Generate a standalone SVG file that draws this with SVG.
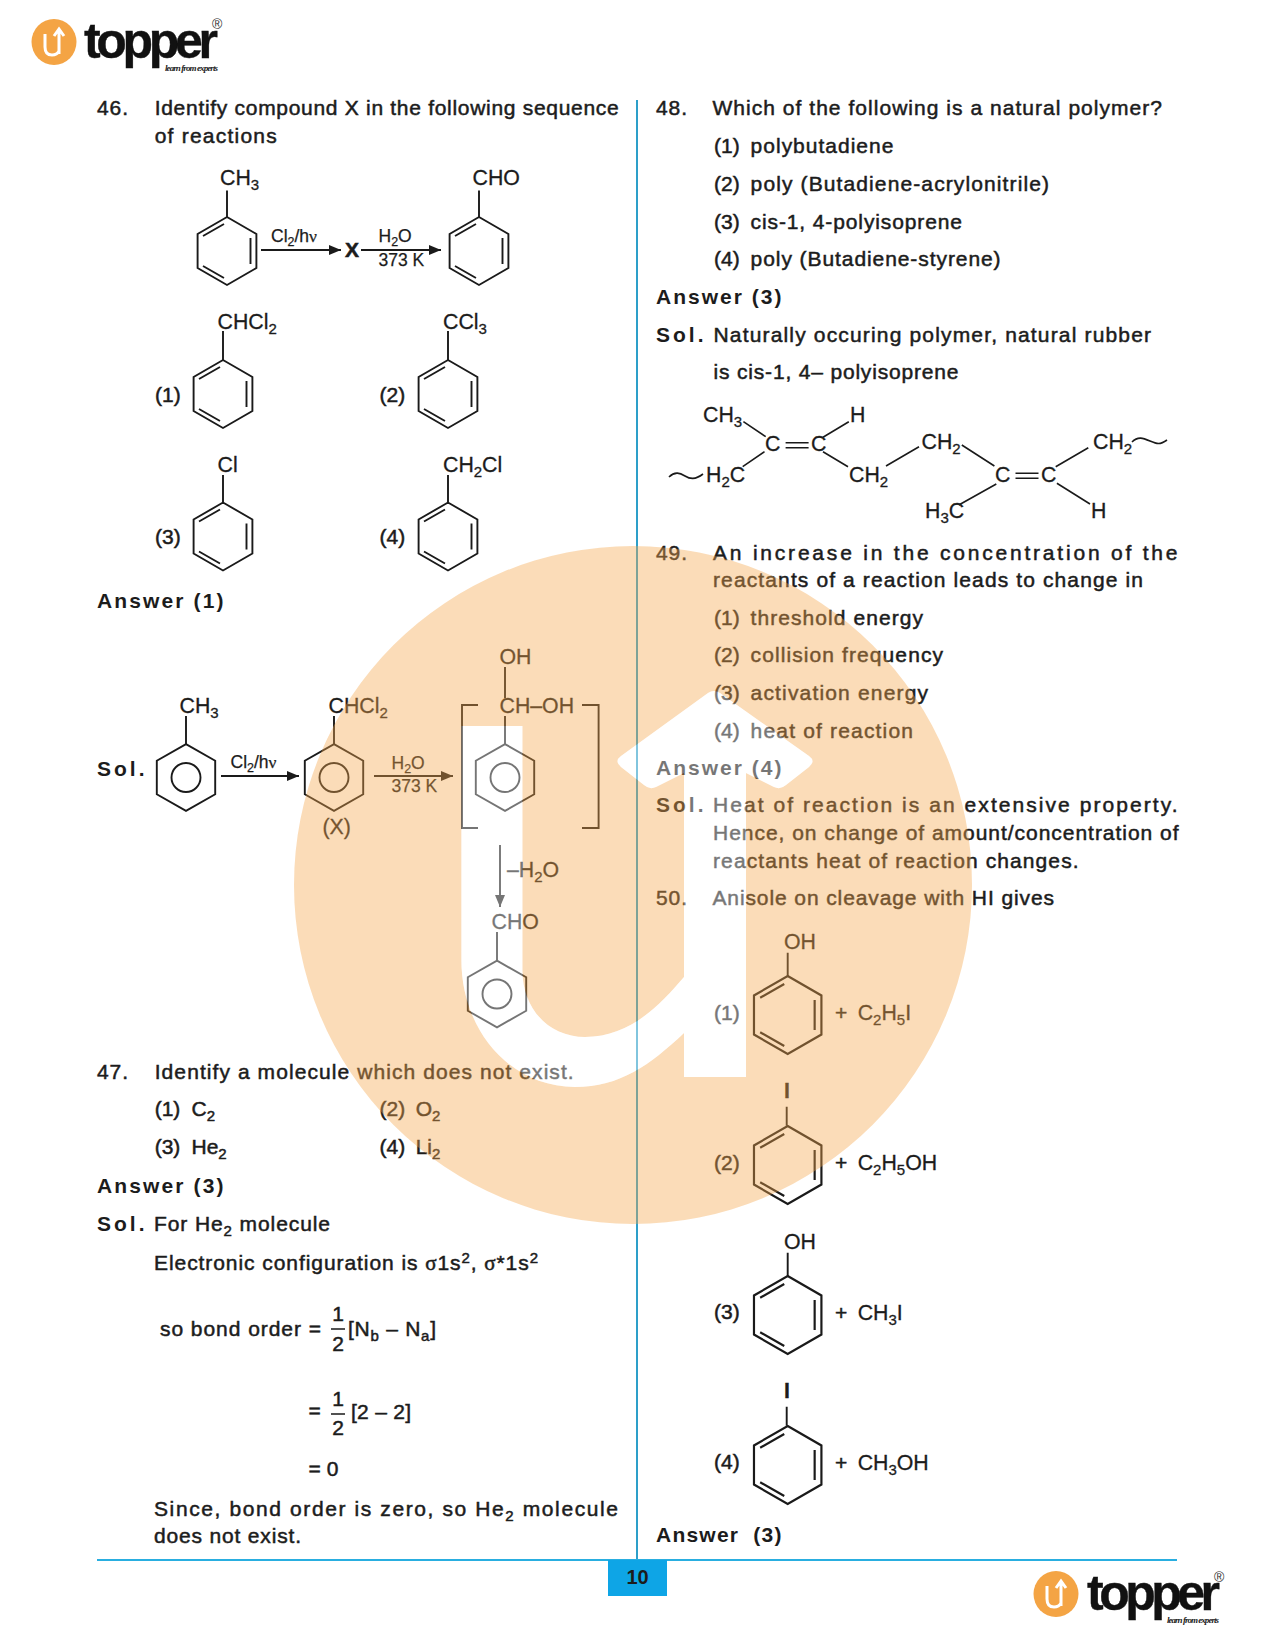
<svg xmlns="http://www.w3.org/2000/svg" xmlns:xlink="http://www.w3.org/1999/xlink" width="1275" height="1650" viewBox="0 0 1275 1650">
<style>
text{font-family:"Liberation Sans",Arial,sans-serif;fill:#1c1c1c}
.t{font-size:21px;stroke:#1c1c1c;stroke-width:.5}
.n{font-size:21px;stroke:#1c1c1c;stroke-width:.5;letter-spacing:.9px}
.b{font-size:21px;font-weight:bold;letter-spacing:1.5px}
.so{font-size:21px;font-weight:bold;letter-spacing:3px}
.c{font-size:21.3px;stroke:#1c1c1c;stroke-width:.3}
.s{font-size:17.5px;stroke:#1c1c1c;stroke-width:.25}
.g{font-family:"Liberation Serif",serif}
.bond{fill:none;stroke:#1a1a1a;stroke-width:1.9}
.thin{fill:none;stroke:#1a1a1a;stroke-width:1.6}
.logo{font-size:50px;font-weight:bold;fill:#111;stroke:#111;stroke-width:.4}
.tag{font-family:"Liberation Serif",serif;font-style:italic;font-weight:bold;font-size:9px;fill:#222}
.reg{font-size:14px;fill:#333}
</style>
<defs>
<marker id="ah" markerUnits="userSpaceOnUse" markerWidth="13" markerHeight="10" refX="12" refY="5" orient="auto"><path d="M0 0L12 5L0 10z" fill="#1a1a1a"/></marker>
<g id="kek" class="bond"><path d="M0-34L29.4-17V17L0 34L-29.4 17V-17Z"/><path d="M-24-15L-3-27M23.5-13V13M-24 15L-3 27"/></g>
<g id="ring" class="bond"><path d="M0-33.4L29.2-16.7V16.7L0 33.4L-29.2 16.7V-16.7Z"/><circle r="14.5"/></g>
<g id="badge"><ellipse rx="22.5" ry="23" fill="#f4a444"/><path d="M-9-8V5Q-9 13-2 13Q3 13 5 9M5 12V-12M0-6L5-13L10-6" fill="none" stroke="#fff" stroke-width="3"/></g>
</defs>
<rect width="1275" height="1650" fill="#fff"/>

<g id="logo-top"><use xlink:href="#badge" href="#badge" x="54" y="42"/><text class="logo" x="84" y="58" textLength="134" lengthAdjust="spacing">topper</text><text class="reg" x="212" y="29">®</text><text class="tag" x="165" y="71" textLength="53">learn from experts</text></g>
<g id="logo-bottom"><use xlink:href="#badge" href="#badge" x="1056" y="1594"/><text class="logo" x="1087" y="1610" textLength="133" lengthAdjust="spacing">topper</text><text class="reg" x="1214" y="1582">®</text><text class="tag" x="1167" y="1623" textLength="52">learn from experts</text></g>

<g id="frame">
<rect x="636" y="100" width="2" height="1460" fill="#2d9fc9"/>
<rect x="97" y="1559" width="1080" height="2" fill="#29aee0"/>
<rect x="608" y="1560" width="59" height="36" fill="#0ea5e6"/>
<text x="637.5" y="1584" text-anchor="middle" font-size="20" font-weight="bold">10</text>
</g>

<g id="connectors">
<path class="bond" d="M227 190.5V218M479 190.5V218M223 331V360M448 331V360M223 475V503M448 475V503"/>
<line class="bond" x1="261" y1="250" x2="341" y2="250" marker-end="url(#ah)"/>
<line class="bond" x1="361" y1="250" x2="441" y2="250" marker-end="url(#ah)"/>
<path class="bond" d="M186 716V744M334 716V744M505 667V698M505 716V744M497 932V961"/>
<line class="bond" x1="221" y1="776" x2="299" y2="776" marker-end="url(#ah)"/>
<line class="bond" x1="374" y1="776" x2="453" y2="776" marker-end="url(#ah)"/>
<line class="bond" x1="500" y1="845" x2="500" y2="907" marker-end="url(#ah)"/>
<path class="bond" d="M478 705H462V828H478M582 705H598.6V828H582"/>
<path class="thin" d="M743.4 421.7L765.7 436.7M764.5 451.7L742.7 466.7M823 437.3L848.8 421.7M823 451.7L848 466.7M886 466L919 446.7M961.8 445L994.4 466M996.3 484L958.8 505M1056.9 483.3L1090 504M1055.7 466.7L1088.3 447.7M785.6 442.7H808.6M785.6 447.7H808.6M1015.5 473.3H1038.5M1015.5 478.3H1038.5M669 477C675 471 680 473 685 476S695 480 703 474M1132 442C1138 436 1143 438 1150 441S1160 445 1167 440"/>
<path class="bond" d="M787.7 952.7V976M786.7 1106.7V1125.7M787.7 1252.7V1276M786.7 1406.7V1425.7"/>
</g>

<g id="q46">
<text class="n" x="97" y="115">46.</text>
<text class="t" x="154.7" y="115" textLength="464" lengthAdjust="spacing">Identify compound X in the following sequence</text>
<text class="t" x="154.7" y="142.5" textLength="122" lengthAdjust="spacing">of reactions</text>
<g id="q46-toluene"><use xlink:href="#kek" href="#kek" x="227" y="251"/><text class="c" x="220" y="185">CH<tspan font-size="15" dy="5">3</tspan></text></g>
<g id="q46-benzaldehyde"><use xlink:href="#kek" href="#kek" x="479" y="251"/><text class="c" x="472.6" y="185">CHO</text></g>
<text class="s" x="271" y="242">Cl<tspan font-size="12.5" dy="4">2</tspan><tspan dy="-4">/h</tspan><tspan class="g">ν</tspan></text>
<text class="t" x="345" y="257" font-weight="bold">X</text>
<text class="s" x="378.5" y="242">H<tspan font-size="12.5" dy="4">2</tspan><tspan dy="-4">O</tspan></text>
<text class="s" x="378.5" y="266">373 K</text>
<g id="q46-opt1"><text class="t" x="155" y="401.5">(1)</text><use xlink:href="#kek" href="#kek" x="223" y="394"/><text class="c" x="217.5" y="328.5">CHCl<tspan font-size="15" dy="5">2</tspan></text></g>
<g id="q46-opt2"><text class="t" x="379.6" y="401.5">(2)</text><use xlink:href="#kek" href="#kek" x="448" y="394"/><text class="c" x="443" y="328.5">CCl<tspan font-size="15" dy="5">3</tspan></text></g>
<g id="q46-opt3"><text class="t" x="155" y="544">(3)</text><use xlink:href="#kek" href="#kek" x="223" y="536.5"/><text class="c" x="217.5" y="472.4">Cl</text></g>
<g id="q46-opt4"><text class="t" x="379.6" y="544">(4)</text><use xlink:href="#kek" href="#kek" x="448" y="536.5"/><text class="c" x="443" y="472.4">CH<tspan font-size="15" dy="5">2</tspan><tspan dy="-5">Cl</tspan></text></g>
<text class="b" x="97" y="608" textLength="128" lengthAdjust="spacing">Answer (1)</text>
</g>

<g id="q46-solution">
<text class="so" x="97" y="776">Sol.</text>
<g id="sol-toluene"><use xlink:href="#ring" href="#ring" x="186" y="777.5"/><text class="c" x="179.5" y="712.5">CH<tspan font-size="15" dy="5">3</tspan></text></g>
<text class="s" x="230.5" y="768">Cl<tspan font-size="12.5" dy="4">2</tspan><tspan dy="-4">/h</tspan><tspan class="g">ν</tspan></text>
<g id="sol-x"><use xlink:href="#ring" href="#ring" x="334" y="777.5"/><text class="c" x="328.5" y="713">CHCl<tspan font-size="15" dy="5">2</tspan></text><text class="c" x="322.5" y="834">(X)</text></g>
<text class="s" x="391.5" y="769">H<tspan font-size="12.5" dy="4">2</tspan><tspan dy="-4">O</tspan></text>
<text class="s" x="391.5" y="792">373 K</text>
<g id="sol-diol"><use xlink:href="#ring" href="#ring" x="505" y="777.5"/><text class="c" x="499.5" y="664">OH</text><text class="c" x="499.5" y="713">CH–OH</text></g>
<text class="c" x="507" y="877">–H<tspan font-size="15" dy="5">2</tspan><tspan dy="-5">O</tspan></text>
<g id="sol-benzaldehyde"><use xlink:href="#ring" href="#ring" x="497" y="994"/><text class="c" x="491.5" y="929">CHO</text></g>
</g>

<g id="q47">
<text class="n" x="97" y="1078.5">47.</text>
<text class="t" x="154.7" y="1078.5" textLength="419" lengthAdjust="spacing">Identify a molecule which does not exist.</text>
<text class="t" x="154.7" y="1116">(1)</text><text class="t" x="191.5" y="1116">C<tspan font-size="15" dy="5">2</tspan></text>
<text class="t" x="379.6" y="1116">(2)</text><text class="t" x="415.7" y="1116">O<tspan font-size="15" dy="5">2</tspan></text>
<text class="t" x="154.7" y="1154">(3)</text><text class="t" x="191.5" y="1154">He<tspan font-size="15" dy="5">2</tspan></text>
<text class="t" x="379.6" y="1154">(4)</text><text class="t" x="415.7" y="1154">Li<tspan font-size="15" dy="5">2</tspan></text>
<text class="b" x="97" y="1193" textLength="128" lengthAdjust="spacing">Answer (3)</text>
<text class="so" x="97" y="1231">Sol.</text>
<text class="t" x="154" y="1231" textLength="176" lengthAdjust="spacing">For He<tspan font-size="15" dy="5">2</tspan><tspan dy="-5"> molecule</tspan></text>
<text class="t" x="154" y="1270" textLength="384" lengthAdjust="spacing">Electronic configuration is <tspan class="g">σ</tspan>1s<tspan font-size="15" dy="-7">2</tspan><tspan dy="7">, </tspan><tspan class="g">σ</tspan>*1s<tspan font-size="15" dy="-7">2</tspan></text>
<text class="t" x="160" y="1336" textLength="161" lengthAdjust="spacing">so bond order =</text>
<text class="t" x="338" y="1321" text-anchor="middle">1</text>
<path class="thin" d="M331 1329H345M331 1414H345"/>
<text class="t" x="338" y="1351" text-anchor="middle">2</text>
<text class="t" x="348" y="1336" textLength="88" lengthAdjust="spacing">[N<tspan font-size="15" dy="5">b</tspan><tspan dy="-5"> – N</tspan><tspan font-size="15" dy="5">a</tspan><tspan dy="-5">]</tspan></text>
<text class="t" x="308.6" y="1418">=</text>
<text class="t" x="338" y="1406" text-anchor="middle">1</text>
<text class="t" x="338" y="1435" text-anchor="middle">2</text>
<text class="t" x="351" y="1419" textLength="60" lengthAdjust="spacing">[2 – 2]</text>
<text class="t" x="308.6" y="1476">= 0</text>
<text class="t" x="154" y="1516" textLength="464" lengthAdjust="spacing">Since, bond order is zero, so He<tspan font-size="15" dy="5">2</tspan><tspan dy="-5"> molecule</tspan></text>
<text class="t" x="154" y="1543" textLength="147" lengthAdjust="spacing">does not exist.</text>
</g>

<g id="q48">
<text class="n" x="656" y="115">48.</text>
<text class="t" x="712.4" y="115" textLength="449.6" lengthAdjust="spacing">Which of the following is a natural polymer?</text>
<text class="t" x="714" y="153">(1)</text><text class="t" x="750.6" y="153" textLength="142.8" lengthAdjust="spacing">polybutadiene</text>
<text class="t" x="714" y="191">(2)</text><text class="t" x="750.6" y="191" textLength="298.4" lengthAdjust="spacing">poly (Butadiene-acrylonitrile)</text>
<text class="t" x="714" y="229">(3)</text><text class="t" x="750.6" y="229" textLength="211.4" lengthAdjust="spacing">cis-1, 4-polyisoprene</text>
<text class="t" x="714" y="266">(4)</text><text class="t" x="750.6" y="266" textLength="250" lengthAdjust="spacing">poly (Butadiene-styrene)</text>
<text class="b" x="656" y="304" textLength="127" lengthAdjust="spacing">Answer (3)</text>
<text class="so" x="656" y="342">Sol.</text>
<text class="t" x="713.5" y="342" textLength="437.5" lengthAdjust="spacing">Naturally occuring polymer, natural rubber</text>
<text class="t" x="713.5" y="379" textLength="245" lengthAdjust="spacing">is cis-1, 4– polyisoprene</text>
<g id="polyisoprene">
<text class="c" x="703" y="422">CH<tspan font-size="15" dy="5">3</tspan></text>
<text class="c" x="850" y="422">H</text>
<text class="c" x="765" y="451">C</text><text class="c" x="811" y="451">C</text>
<text class="c" x="706" y="481.7">H<tspan font-size="15" dy="5">2</tspan><tspan dy="-5">C</tspan></text>
<text class="c" x="849" y="481.7">CH<tspan font-size="15" dy="5">2</tspan></text>
<text class="c" x="921.6" y="449">CH<tspan font-size="15" dy="5">2</tspan></text>
<text class="c" x="995" y="481.7">C</text><text class="c" x="1041" y="481.7">C</text>
<text class="c" x="925" y="517.7">H<tspan font-size="15" dy="5">3</tspan><tspan dy="-5">C</tspan></text>
<text class="c" x="1091" y="518">H</text>
<text class="c" x="1093" y="449">CH<tspan font-size="15" dy="5">2</tspan></text>
</g>
</g>

<g id="q49">
<text class="n" x="656" y="560">49.</text>
<text class="t" x="713" y="560" textLength="464.5" lengthAdjust="spacing">An increase in the concentration of the</text>
<text class="t" x="713" y="587" textLength="430" lengthAdjust="spacing">reactants of a reaction leads to change in</text>
<text class="t" x="714" y="625">(1)</text><text class="t" x="750.6" y="625" textLength="172.4" lengthAdjust="spacing">threshold energy</text>
<text class="t" x="714" y="662">(2)</text><text class="t" x="750.6" y="662" textLength="192.4" lengthAdjust="spacing">collision frequency</text>
<text class="t" x="714" y="699.5">(3)</text><text class="t" x="750.6" y="699.5" textLength="177.4" lengthAdjust="spacing">activation energy</text>
<text class="t" x="714" y="737.5">(4)</text><text class="t" x="750.6" y="737.5" textLength="162.4" lengthAdjust="spacing">heat of reaction</text>
<text class="b" x="656" y="775.4" textLength="127" lengthAdjust="spacing">Answer (4)</text>
<text class="so" x="656" y="812">Sol.</text>
<text class="t" x="713" y="812" textLength="464.5" lengthAdjust="spacing">Heat of reaction is an extensive property.</text>
<text class="t" x="713" y="839.5" textLength="465.5" lengthAdjust="spacing">Hence, on change of amount/concentration of</text>
<text class="t" x="713" y="867.5" textLength="365.6" lengthAdjust="spacing">reactants heat of reaction changes.</text>
</g>

<g id="q50">
<text class="n" x="656" y="905">50.</text>
<text class="t" x="712.4" y="905" textLength="341.6" lengthAdjust="spacing">Anisole on cleavage with HI gives</text>
<g id="q50-opt1"><text class="t" x="714" y="1019.5">(1)</text><use xlink:href="#kek" href="#kek" transform="translate(787.7 1015) scale(1.147)"/><text class="c" x="784" y="948.5">OH</text><text class="t" x="835" y="1020">+</text><text class="c" x="857.7" y="1020">C<tspan font-size="15" dy="5">2</tspan><tspan dy="-5">H</tspan><tspan font-size="15" dy="5">5</tspan><tspan dy="-5">I</tspan></text></g>
<g id="q50-opt2"><text class="t" x="714" y="1169.5">(2)</text><use xlink:href="#kek" href="#kek" transform="translate(787.7 1165) scale(1.147)"/><text class="c" x="784" y="1098" font-weight="bold">I</text><text class="t" x="835" y="1170">+</text><text class="c" x="857.7" y="1170">C<tspan font-size="15" dy="5">2</tspan><tspan dy="-5">H</tspan><tspan font-size="15" dy="5">5</tspan><tspan dy="-5">OH</tspan></text></g>
<g id="q50-opt3"><text class="t" x="714" y="1319">(3)</text><use xlink:href="#kek" href="#kek" transform="translate(787.7 1315) scale(1.147)"/><text class="c" x="784" y="1248.5">OH</text><text class="t" x="835" y="1319.5">+</text><text class="c" x="857.7" y="1319.5">CH<tspan font-size="15" dy="5">3</tspan><tspan dy="-5">I</tspan></text></g>
<g id="q50-opt4"><text class="t" x="714" y="1469">(4)</text><use xlink:href="#kek" href="#kek" transform="translate(787.7 1465) scale(1.147)"/><text class="c" x="784" y="1398" font-weight="bold">I</text><text class="t" x="835" y="1470">+</text><text class="c" x="857.7" y="1470">CH<tspan font-size="15" dy="5">3</tspan><tspan dy="-5">OH</tspan></text></g>
<text class="b" x="656" y="1541.7" textLength="127" lengthAdjust="spacing" xml:space="preserve">Answer  (3)</text>
</g>

<g id="watermark">
<path fill="#f5a74e" fill-opacity=".4" fill-rule="evenodd" d="M294 885A339 339 0 1 0 972 885A339 339 0 1 0 294 885ZM461.4 726H522.4V970C522.4 1010 550 1037 585 1037C630 1037 660 1005 684 977V773L656 787Q649.6 790 644 785L621 767Q614 761 621 756L708 693Q714 689 720 693L809 756Q816 761 809 767L786 785Q780.5 790 774 787L746 773V1077H684V1033C650 1065 620 1087 575 1087C510 1087 461.4 1030 461.4 960Z"/>
<path fill="#fff" fill-opacity=".4" d="M461.4 726H522.4V970C522.4 1010 550 1037 585 1037C630 1037 660 1005 684 977V773L656 787Q649.6 790 644 785L621 767Q614 761 621 756L708 693Q714 689 720 693L809 756Q816 761 809 767L786 785Q780.5 790 774 787L746 773V1077H684V1033C650 1065 620 1087 575 1087C510 1087 461.4 1030 461.4 960Z"/>
</g>
</svg>
